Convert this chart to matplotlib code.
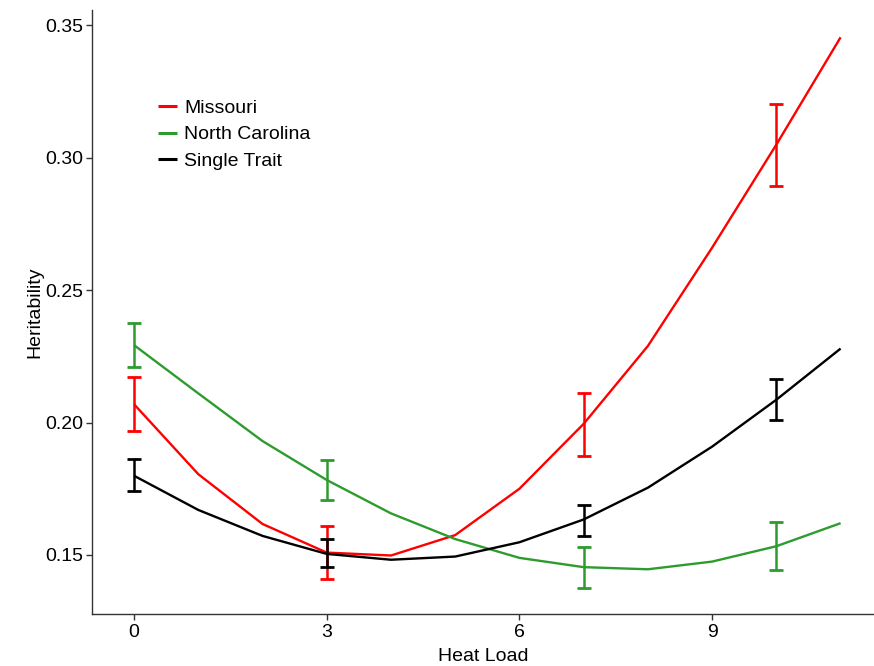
import matplotlib
matplotlib.use("Agg")
import matplotlib.pyplot as plt
import numpy as np

plt.rcParams['font.family'] = ['Liberation Sans', 'DejaVu Sans']

heat_load = [0, 1, 2, 3, 4, 5, 6, 7, 8, 9, 10, 11]

missouri = [0.2069, 0.1805, 0.1617, 0.1509, 0.1498, 0.1575,
            0.1750, 0.1995, 0.2289, 0.2660, 0.3049, 0.3454]
north_carolina = [0.2292, 0.2110, 0.1930, 0.1783, 0.1657, 0.1560,
                  0.1489, 0.1454, 0.1446, 0.1475, 0.1533, 0.1620]
single_trait = [0.1799, 0.1670, 0.1572, 0.1504, 0.1482, 0.1494,
                0.1548, 0.1634, 0.1754, 0.1909, 0.2086, 0.2279]

# error bars at selected heat loads: (lower, upper)
err_x = [0, 3, 7, 10]
missouri_lo = [0.1969, 0.1411, 0.1872, 0.2894]
missouri_hi = [0.2173, 0.1608, 0.2110, 0.3204]
nc_lo = [0.2211, 0.1708, 0.1374, 0.1442]
nc_hi = [0.2377, 0.1858, 0.1529, 0.1623]
st_lo = [0.1742, 0.1453, 0.1572, 0.2010]
st_hi = [0.1862, 0.1562, 0.1687, 0.2164]

series = [
    ("Missouri", missouri, missouri_lo, missouri_hi, "#FF0000"),
    ("North Carolina", north_carolina, nc_lo, nc_hi, "#2E9B2E"),
    ("Single Trait", single_trait, st_lo, st_hi, "#000000"),
]

fig = plt.figure(figsize=(8.74, 6.66), dpi=100)
ax = fig.add_axes([0.1053, 0.078, 0.8947, 0.907])

for name, vals, lo, hi, col in series:
    ax.plot(heat_load, vals, color=col, lw=1.7, label=name, solid_capstyle='butt')
    mid = [(a + b) / 2 for a, b in zip(lo, hi)]
    yerr = [[m - a for m, a in zip(mid, lo)], [b - m for m, b in zip(mid, hi)]]
    ax.errorbar(err_x, mid, yerr=yerr, fmt='none', ecolor=col,
                elinewidth=1.8, capsize=4.8, capthick=2.0)

ax.set_xlim(-0.654, 11.52)
ax.set_ylim(0.1277, 0.3557)
ax.set_xticks([0, 3, 6, 9])
ax.set_yticks([0.15, 0.20, 0.25, 0.30, 0.35])
ax.set_yticklabels(["0.15", "0.20", "0.25", "0.30", "0.35"])

for side in ("top", "right"):
    ax.spines[side].set_visible(False)
for side in ("left", "bottom"):
    ax.spines[side].set_color("#333333")
    ax.spines[side].set_linewidth(1.0)

ax.tick_params(axis='both', direction='out', length=4, width=1.0,
               color="#333333", labelsize=14, labelcolor="black", pad=3)
ax.tick_params(axis='y', pad=2.5)

ax.set_xlabel("Heat Load", fontsize=14, labelpad=5)
ax.set_ylabel("Heritability", fontsize=14, labelpad=1)

leg = ax.legend(loc='upper left', bbox_to_anchor=(0.0844, 0.852), frameon=False,
                fontsize=14, handlelength=0.95, handletextpad=0.38,
                labelspacing=0.45, borderaxespad=0, borderpad=0)
for line in leg.get_lines():
    line.set_linewidth(2.2)

fig.savefig("out.png", dpi=100)
